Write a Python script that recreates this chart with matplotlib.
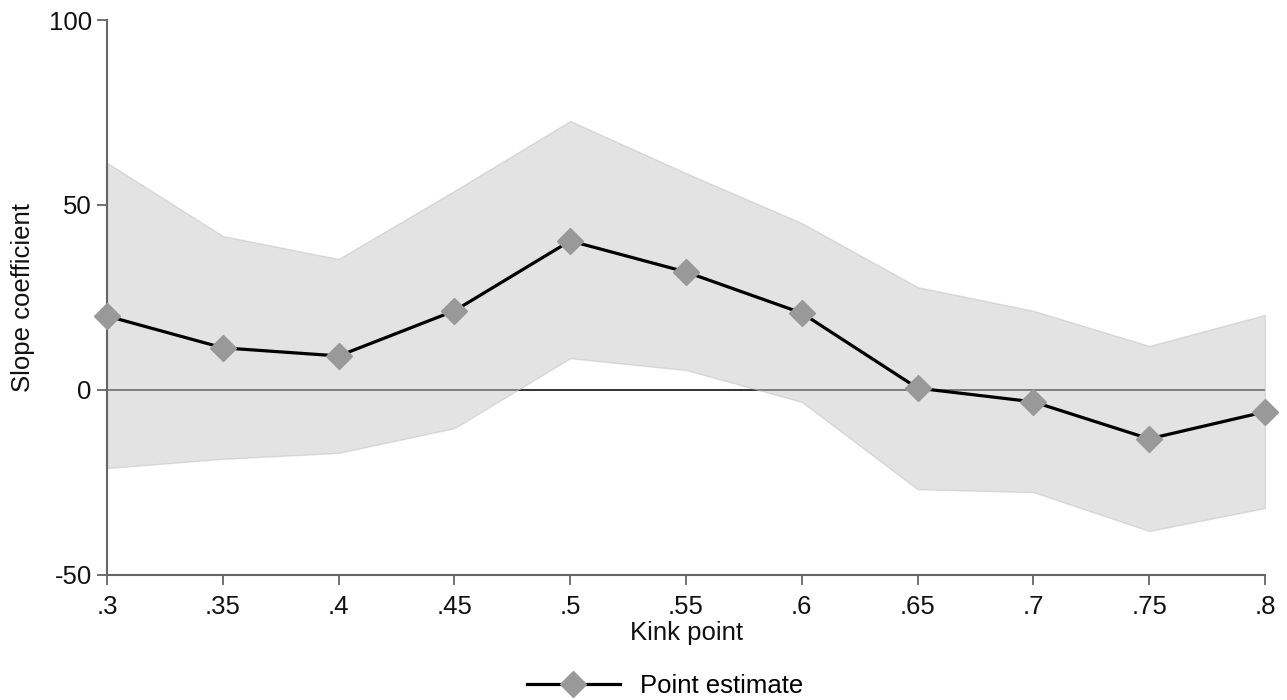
import matplotlib
matplotlib.use("Agg")
import matplotlib.pyplot as plt
from matplotlib.lines import Line2D

plt.rcParams['font.family'] = ['Liberation Sans', 'DejaVu Sans']

kink = [0.30, 0.35, 0.40, 0.45, 0.50, 0.55, 0.60, 0.65, 0.70, 0.75, 0.80]
estimate = [20.0, 11.4, 9.2, 21.4, 40.3, 31.9, 20.8, 0.5, -3.2, -13.2, -5.9]
ci_upper = [61.4, 41.6, 35.4, 53.8, 72.7, 58.6, 45.1, 27.8, 21.4, 11.9, 20.3]
ci_lower = [-21.1, -18.6, -17.0, -10.3, 8.6, 5.4, -3.2, -26.8, -27.6, -38.1, -31.9]
xtick_labels = ['.3', '.35', '.4', '.45', '.5', '.55', '.6', '.65', '.7', '.75', '.8']
ytick_vals = [-50, 0, 50, 100]

FS = 18.5

fig = plt.figure(figsize=(12.87, 7.0), dpi=100)
ax = fig.add_axes([107/1287, 1 - 575/700, (1265 - 107)/1287, (575 - 20)/700])

# zero reference line sits under the translucent band
ax.axhline(0, color='#222222', lw=1.3, zorder=1)
ax.fill_between(kink, ci_lower, ci_upper, facecolor='#c8c8c8', alpha=0.5,
                edgecolor='#c0c0c0', linewidth=1.0, zorder=2)
ax.plot(kink, estimate, color='black', lw=2.3, marker='D', markersize=13,
        markerfacecolor='#999999', markeredgecolor='#999999', zorder=3,
        clip_on=False)

ax.set_xlim(0.3, 0.8)
ax.set_ylim(-50, 100)
ax.set_xticks(kink)
ax.set_xticklabels(xtick_labels)
ax.set_yticks(ytick_vals)
ax.set_yticklabels([str(v) for v in ytick_vals])

for side in ('top', 'right'):
    ax.spines[side].set_visible(False)
for side in ('left', 'bottom'):
    ax.spines[side].set_color('#666666')
    ax.spines[side].set_linewidth(1.5)
ax.tick_params(axis='both', direction='out', length=7, width=1.3,
               color='#666666', labelsize=FS, labelcolor='#111111')
ax.tick_params(axis='x', pad=7.5)
ax.tick_params(axis='y', pad=4)

ax.set_xlabel('Kink point', fontsize=FS, color='#111111', labelpad=1)
ax.set_ylabel('Slope coefficient', fontsize=FS, color='#111111', labelpad=10)

handle = Line2D([], [], color='black', lw=2.3, marker='D', markersize=13,
                markerfacecolor='#999999', markeredgecolor='#999999')
fig.legend([handle], ['Point estimate'], loc='center', bbox_to_anchor=(0.517, 1 - 686/700),
           frameon=False, fontsize=FS, handlelength=3.6, handletextpad=0.8)

fig.savefig('out.png', dpi=100)
